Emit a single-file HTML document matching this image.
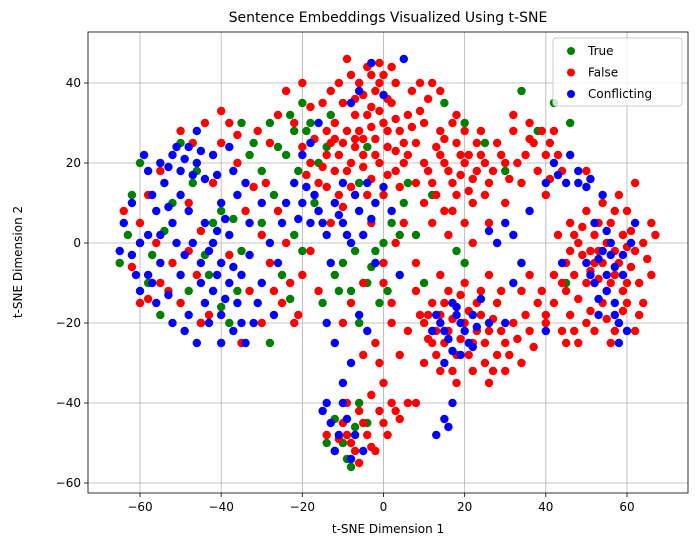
<!DOCTYPE html>
<html><head><meta charset="utf-8"><style>
body{margin:0;background:#fff;font-family:"Liberation Sans","DejaVu Sans",sans-serif}
svg text{font-family:"DejaVu Sans","Liberation Sans",sans-serif}
</style></head><body>
<svg id="chart" width="698" height="547" xmlns="http://www.w3.org/2000/svg">
<rect width="698" height="547" fill="#fff"/>
<g id="grid"></g><g id="pts"></g><g id="axes"></g>
</svg>
<script>
const xTicks=[-60,-40,-20,0,20,40,60];
const yTicks=[-60,-40,-20,0,20,40];
const seriesNames=["True","False","Conflicting"];
const seriesColors=["green","red","blue"];
const greenPts=[-65,-5,-62,12,-60,0,-58,-10,-54,3,-50,25,-48,-12,-45,-20,-42,5,-40,8,-38,-20,-35,30,-32,25,-30,18,-28,30,-26,24,-24,22,-22,28,-20,35,-18,30,-16,20,-14,24,-25,-8,-22,2,-20,-2,-28,-25,-15,-15,-12,-8,-10,-5,-8,-12,-6,-20,-4,-10,-2,-2,0,0,-1,-15,2,5,5,10,0,30,3,40,-4,24,-6,15,8,2,6,15,10,-10,15,35,20,30,25,25,30,18,34,38,38,28,42,35,46,30,34,-5,20,-5,45,-10,-10,-50,-8,-56,-4,-45,-12,-44,-6,-40,-60,20,-55,-18,-35,-2,-30,5,-44,-3,
-63,2,-57,-3,-52,10,-47,15,-43,-8,-37,6,-33,22,-27,12,-23,32,-19,28,-13,32,-11,-12,-7,-2,-3,-6,1,-12,4,2,-9,-54,-7,-46,-14,-50,12,12,18,-2,-40,-16,-46,18,-36,-12,-23,-14,-17,10,-21,18];
const redPts=[-14,22,-12,18,-10,25,-8,20,-6,28,-4,32,-2,26,0,30,2,35,4,28,6,32,8,25,-12,30,-10,35,-6,40,-4,44,-2,38,0,42,3,40,-16,15,-18,20,-8,14,-5,22,-1,20,1,24,5,20,7,38,9,40,11,36,-14,28,-9,46,-7,36,-3,16,3,18,-11,12,-20,24,-22,30,-24,38,-20,40,-26,32,-18,34,-16,8,-13,5,0,12,4,14,10,30,12,40,14,38,-1,45,-7,32,-3,34,1,28,6,22,-9,28,-15,35,
10,20,12,15,14,22,16,18,18,12,20,20,22,16,24,22,18,25,15,8,12,5,20,5,22,10,16,2,25,12,27,18,28,25,30,20,32,28,34,15,30,10,26,5,10,10,8,15,20,28,14,28,24,28,17,30,22,0,28,0,35,22,37,25,40,22,42,28,38,18,44,18,40,12,36,30,32,32,
45,-5,48,0,50,-10,52,-5,55,0,58,-5,60,-10,62,-2,64,0,66,5,56,5,54,10,50,8,46,5,44,-10,42,-15,46,-18,50,-20,54,-15,58,-20,60,-15,62,-22,56,-25,52,-22,48,-25,44,-22,40,-18,58,12,60,8,56,-10,54,-5,52,2,48,-14,66,-8,64,-15,62,15,50,18,46,-2,43,2,59,2,57,-2,
10,-20,12,-25,14,-18,16,-22,18,-28,20,-20,22,-25,24,-18,26,-22,28,-28,30,-25,32,-20,34,-30,36,-22,28,-15,24,-12,20,-10,16,-12,12,-15,10,-30,14,-32,18,-35,22,-32,26,-35,30,-32,38,-15,40,-20,34,-12,8,-12,6,-22,4,-28,2,-15,0,-10,36,-8,26,-8,14,-8,
-60,5,-56,0,-52,-5,-48,10,-45,3,-42,15,-40,25,-38,30,-36,20,-34,8,-30,2,-28,-5,-25,-15,-22,-20,-30,-20,-35,-25,-45,-20,-50,-15,-55,-10,-60,-15,-64,8,-58,12,-50,28,-44,30,-40,33,-32,14,-26,8,-24,0,-20,-8,-18,-2,-16,-12,-28,25,-33,-12,-48,-2,-55,18,
-10,-45,-8,-50,-6,-42,-4,-48,-2,-52,0,-45,-12,-52,-14,-48,-6,-55,2,-40,4,-44,-3,-38,-1,-30,0,-35,6,-40,8,-40,-5,-28,
-5,-10,-8,-15,0,-5,3,0,5,5,-3,5,8,-5,2,-20,-10,-20,-2,-25,
-13,25,-11,22,-9,18,-7,24,-5,26,-3,29,-1,33,1,36,3,31,5,25,7,29,-15,19,-17,26,-19,17,-13,38,-11,40,-8,42,-5,37,-1,40,2,44,-3,42,-7,26,-5,19,-2,22,1,17,3,23,9,33,-12,26,-14,14,-10,9,-4,12,
11,18,13,24,15,20,17,15,19,17,21,22,23,18,25,20,19,22,13,12,17,8,21,13,23,25,26,15,29,22,31,16,33,20,36,26,39,28,41,25,43,22,41,16,18,32,15,26,
47,-8,49,-3,51,-7,53,-2,57,-8,59,-12,61,-6,63,-10,65,-4,67,2,61,3,53,5,49,4,45,-12,47,-22,51,-17,55,-19,57,-22,59,-17,63,-18,55,-12,53,-9,47,2,51,-2,57,8,60,-1,42,-8,45,-25,
11,-18,13,-22,15,-25,17,-19,19,-24,21,-17,23,-22,25,-25,27,-19,29,-22,31,-28,33,-24,35,-18,29,-12,25,-30,21,-28,17,-32,13,-28,11,-24,19,-13,23,-15,37,-26,39,-12,9,-18,15,-15,27,-32,
-53,-12,-46,-8,-43,-18,-38,-3,-36,27,-31,28,-29,15,-27,-12,-23,-10,-58,-14,-62,-6,-47,25,-21,-18,
-9,-48,-7,-52,-5,-45,-3,-51,-11,-49,-1,-42,3,-42,-9,-40,1,-48];
const bluePts=[-55,20,-52,22,-50,18,-48,24,-46,20,-44,16,-50,12,-54,15,-58,18,-48,8,-52,5,-56,8,-58,2,-60,0,-55,-5,-62,-3,-65,-2,-60,-12,-56,-15,-50,-8,-45,-5,-42,0,-40,-5,-38,-10,-35,-8,-42,-12,-40,-18,-36,-15,-33,-3,-38,2,-44,-15,-48,-18,-52,-20,-46,-25,-35,-20,-40,10,-36,12,-34,15,-42,22,-46,28,-38,24,-30,10,-28,0,-30,-10,-32,-20,-34,-25,-25,5,-26,-5,-40,-25,-62,10,-64,5,-58,-8,-53,-13,-47,0,-44,5,
-20,10,-18,5,-16,8,-14,2,-12,10,-10,5,-8,0,-6,8,-18,25,-16,30,-20,22,-22,15,-24,10,-4,15,-2,10,0,14,-8,35,-6,38,-3,45,0,37,5,46,-10,15,-13,-5,-14,-20,-12,-25,-6,-18,-4,-22,-8,-30,-10,-35,-2,-5,4,-8,-5,2,
14,-20,16,-24,18,-18,20,-22,22,-26,17,-15,12,-22,24,-14,19,-28,15,-30,26,-20,22,-18,30,-20,32,-10,34,-5,28,0,26,3,30,5,36,8,32,2,
50,-5,52,-10,54,-2,56,0,55,-8,53,-18,57,-15,58,-20,60,-22,52,5,54,12,50,14,48,18,45,15,42,20,46,22,40,15,56,-3,53,-14,58,-25,44,-5,40,-22,48,15,62,5,
-15,-42,-13,-45,-11,-48,-9,-44,-7,-48,-12,-52,-8,-54,-5,-52,-14,-40,-10,-40,13,-48,15,-44,17,-40,16,-46,
-53,19,-51,24,-49,21,-47,17,-45,23,-53,9,-57,12,-55,2,-51,0,-49,-3,-43,-2,-41,-8,-39,-14,-37,-6,-43,-20,-37,-22,-41,3,-39,6,-45,-10,-57,-10,-61,-8,-59,22,-49,-22,-33,5,-31,-15,-27,-18,-37,18,-41,17,
-17,12,-15,5,-11,7,-9,2,-7,12,-19,14,-21,6,-3,6,2,8,
15,-22,17,-27,19,-20,21,-25,13,-18,23,-21,18,-16,
51,-8,53,-4,55,-12,57,-6,59,-3,61,0,55,3,57,-18,51,16,43,17,59,-8];
const NS="http://www.w3.org/2000/svg";
const L=88,R=688,T=32,B=493;
const X=v=>383.5+v*4.058;
const Y=v=>243-v*4;
function mk(tag,attrs,parent){const e=document.createElementNS(NS,tag);for(const k in attrs)e.setAttribute(k,attrs[k]);parent.appendChild(e);return e;}
const grid=document.getElementById('grid'),pts=document.getElementById('pts'),axes=document.getElementById('axes');
xTicks.forEach(t=>{
 const g=mk('line',{x1:X(t),x2:X(t),y1:T,y2:B,stroke:'#b0b0b0','stroke-width':0.8},grid);
 
 
 mk('line',{x1:X(t),x2:X(t),y1:B,y2:B+4,stroke:'#000','stroke-width':0.8},axes);
 const tx=mk('text',{x:X(t),y:B+18,'font-size':12,'text-anchor':'middle'},axes);tx.textContent=t<0?'\u2212'+(-t):t;
 
 
});
yTicks.forEach(t=>{
 const g=mk('line',{x1:L,x2:R,y1:Y(t),y2:Y(t),stroke:'#b0b0b0','stroke-width':0.8},grid);
 
 
 mk('line',{x1:L-4,x2:L,y1:Y(t),y2:Y(t),stroke:'#000','stroke-width':0.8},axes);
 const tx=mk('text',{x:L-7,y:Y(t)+4,'font-size':12,'text-anchor':'end'},axes);tx.textContent=t<0?'\u2212'+(-t):t;
 
 
});
[greenPts,redPts,bluePts].forEach((arr,si)=>{
 for(let i=0;i<arr.length;i+=2){
  const c=mk('circle',{cx:X(arr[i]),cy:Y(arr[i+1]),r:4.2,fill:seriesColors[si]},pts);
  
  
 }
});
const fr=mk('rect',{x:L,y:T,width:R-L,height:B-T,fill:'none',stroke:'#000','stroke-width':0.8},axes);


const ti=mk('text',{x:388,y:22,'font-size':14,'text-anchor':'middle'},axes);ti.textContent='Sentence Embeddings Visualized Using t-SNE';


const xl=mk('text',{x:388,y:533,'font-size':12,'text-anchor':'middle'},axes);xl.textContent='t-SNE Dimension 1';


const yl=mk('text',{x:22,y:262,'font-size':12,'text-anchor':'middle',transform:'rotate(-90 22 262)'},axes);yl.textContent='t-SNE Dimension 2';


const lg=mk('g',{},axes);


mk('rect',{x:553,y:38,width:129,height:68,rx:3,fill:'#fff','fill-opacity':0.8,stroke:'#ccc'},lg);
seriesNames.forEach((n,i)=>{
 const e=mk('g',{},lg);
 
 
 mk('circle',{cx:571,cy:51+i*21.5,r:4,fill:seriesColors[i]},e);
 const t=mk('text',{x:588,y:55+i*21.5,'font-size':12},e);t.textContent=n;
});
</script>
</body></html>
